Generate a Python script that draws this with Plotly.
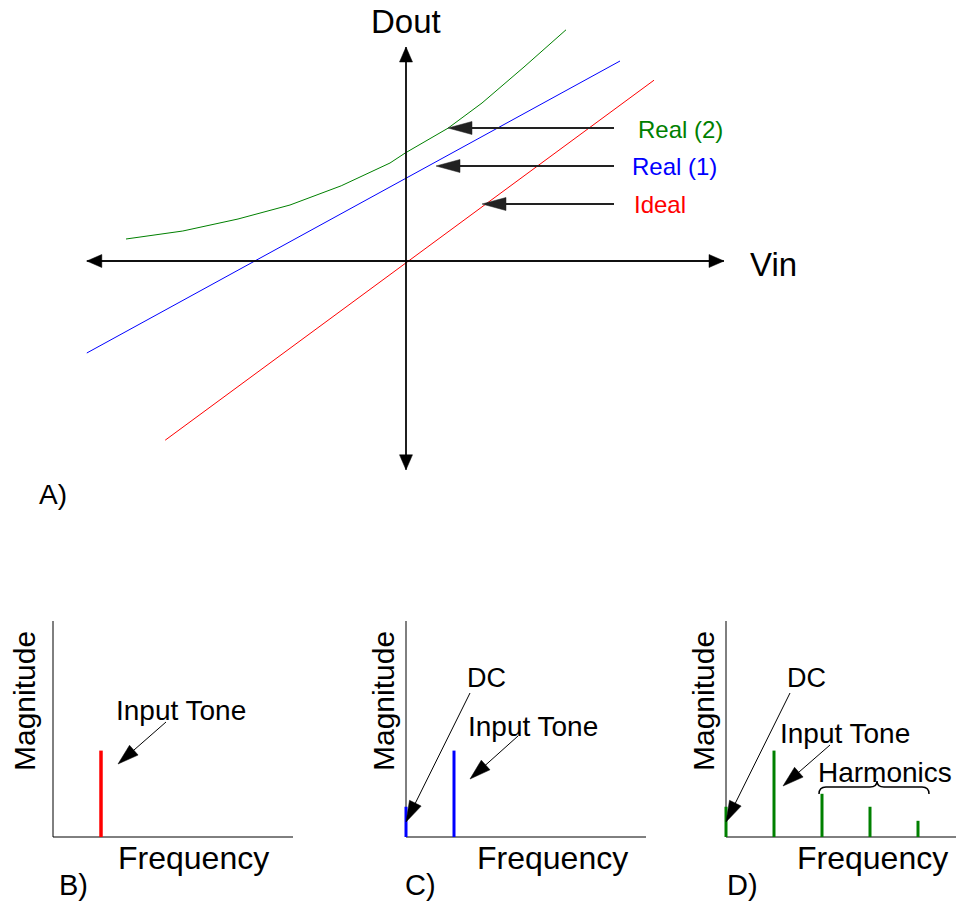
import math
import plotly.graph_objects as go

W, H = 956, 911
FONT = "Liberation Sans, Arial, sans-serif"

# ---------------- Data: top panel (transfer characteristic) ----------------
ideal_vin = [-3.01, 3.10]
ideal_dout = [-2.24, 2.26]
real1_vin = [-3.99, 2.675]
real1_dout = [-1.15, 2.50]
real2_vin = [-3.50, -2.79, -2.10, -1.45, -0.81, -0.20, -0.01, 0.525, 0.95, 1.475, 2.00]
real2_dout = [0.275, 0.375, 0.525, 0.70, 0.94, 1.225, 1.35, 1.66, 1.975, 2.425, 2.89]
axis_vin_extent = [-3.99, 3.975]
axis_dout_extent = [-2.61, 2.675]
curve_labels = ["Real (2)", "Real (1)", "Ideal"]

# ---------------- Data: spectra ----------------
spec_b_freq = [1]
spec_b_mag = [4.0]
spec_c_freq = [0, 1]
spec_c_mag = [1.4, 4.0]
spec_d_freq = [0, 1, 2, 3, 4]
spec_d_mag = [1.4, 4.0, 2.0, 1.4, 0.75]

# ---------------- layout helpers ----------------
PX_TOP = 80.0          # pixels per unit, top panel
OX, OY = 406, 261      # origin of top panel in pixels
FPX = 48.0             # pixels per frequency unit
MPX = 21.6             # pixels per magnitude unit


def px(x):
    return x / W


def py(y):
    return 1 - y / H


def stems(f, m):
    xs, ys = [], []
    for a, b in zip(f, m):
        xs += [a, a, None]
        ys += [0, b, None]
    return xs, ys


fig = go.Figure()

# top panel traces
fig.add_trace(go.Scatter(x=real2_vin, y=real2_dout, mode="lines",
                         line=dict(color="#008000", width=1), xaxis="x", yaxis="y"))
fig.add_trace(go.Scatter(x=real1_vin, y=real1_dout, mode="lines",
                         line=dict(color="#0000FF", width=1), xaxis="x", yaxis="y"))
fig.add_trace(go.Scatter(x=ideal_vin, y=ideal_dout, mode="lines",
                         line=dict(color="#FF0000", width=1), xaxis="x", yaxis="y"))

# bottom panels
panels = [
    ("2", 53, 293, spec_b_freq, spec_b_mag, "#FF0000", 3.5),
    ("3", 406, 646, spec_c_freq, spec_c_mag, "#0000FF", 3),
    ("4", 726, 980, spec_d_freq, spec_d_mag, "#008000", 3),
]
BASE_Y, TOP_Y = 837, 621

layout_axes = {}
shapes = []
for suf, ox, xend, f, m, col, lw in panels:
    xs, ys = stems(f, m)
    fig.add_trace(go.Scatter(x=xs, y=ys, mode="lines", line=dict(color=col, width=lw),
                             xaxis="x" + suf, yaxis="y" + suf))
    left_pad = 10
    bot_pad = 5
    d0 = px(ox - left_pad)
    d1 = min(px(xend), 1.0)
    xr1 = (min(xend, W) - ox) / FPX
    layout_axes["xaxis" + suf] = dict(domain=[d0, d1], range=[-left_pad / FPX, xr1],
                                      visible=False, anchor="y" + suf, fixedrange=True)
    layout_axes["yaxis" + suf] = dict(domain=[py(BASE_Y + bot_pad), py(TOP_Y - 2)],
                                      range=[-bot_pad / MPX, (BASE_Y - TOP_Y + 2) / MPX],
                                      visible=False, anchor="x" + suf, fixedrange=True)
    ymax = (BASE_Y - TOP_Y) / MPX
    shapes.append(dict(type="line", xref="x" + suf, yref="y" + suf, x0=0, y0=0, x1=0, y1=ymax,
                       line=dict(color="black", width=1), layer="below"))
    shapes.append(dict(type="line", xref="x" + suf, yref="y" + suf, x0=0, y0=0, x1=(xend - ox) / FPX, y1=0,
                       line=dict(color="black", width=1), layer="below"))

# brace for harmonics
brace_pts = "M {a},{b} Q {a},{c} {d},{c} L {e},{c} Q {f},{c} {f},{g} Q {f},{c} {h},{c} L {i},{c} Q {j},{c} {j},{b}".format(
    a=px(819), b=py(794), c=py(787), d=px(826), e=px(870), f=px(877), g=py(781), h=px(884), i=px(922), j=px(929))
shapes.append(dict(type="path", xref="paper", yref="paper", path=brace_pts,
                   line=dict(color="black", width=1.5)))


def arrow(tail, tip, L, Wd, lw, color="black"):
    """Arrow from tail to tip (pixel positions) with a filled triangular head."""
    dx, dy = tip[0] - tail[0], tip[1] - tail[1]
    n = math.hypot(dx, dy)
    ux, uy = dx / n, dy / n
    bx, by = tip[0] - L * ux, tip[1] - L * uy
    nx, ny = -uy, ux
    c1 = (bx + nx * Wd / 2, by + ny * Wd / 2)
    c2 = (bx - nx * Wd / 2, by - ny * Wd / 2)
    shapes.append(dict(type="line", xref="paper", yref="paper",
                       x0=px(tail[0]), y0=py(tail[1]), x1=px(bx + ux), y1=py(by + uy),
                       line=dict(color=color, width=lw)))
    path = "M {},{} L {},{} L {},{} Z".format(px(tip[0]), py(tip[1]), px(c1[0]), py(c1[1]),
                                             px(c2[0]), py(c2[1]))
    shapes.append(dict(type="path", xref="paper", yref="paper", path=path,
                       fillcolor=color, line=dict(color=color, width=0.5)))


def to_px(v, d):
    return (OX + v * PX_TOP, OY - d * PX_TOP)


# axis arrows (both ends)
left = to_px(axis_vin_extent[0], 0)
right = to_px(axis_vin_extent[1], 0)
top = to_px(0, axis_dout_extent[1])
bottom = to_px(0, axis_dout_extent[0])
arrow(left, right, 15, 13, 1.3)
arrow(right, left, 15, 13, 1.3)
arrow(bottom, top, 15, 13, 1.3)
arrow(top, bottom, 15, 13, 1.3)

annotations = []


def text(s, x, y, size, color="black", angle=0, xanchor="center"):
    annotations.append(dict(text=s, x=px(x), y=py(y), xref="paper", yref="paper",
                            showarrow=False, xanchor=xanchor, yanchor="middle", textangle=angle,
                            font=dict(family=FONT, size=size, color=color)))


# label arrows in top panel
label_tips = [(448, 128), (436, 166), (482, 204)]
label_cols = ["#008000", "#0000FF", "#FF0000"]
label_x = [636, 630, 632]
for (tx, ty), lab, col, lx in zip(label_tips, curve_labels, label_cols, label_x):
    arrow((614, ty), (tx, ty), 24, 13, 1.8, color="#222222")
    text(lab, lx, ty + 1, 24, col, xanchor="left")

text("Dout", 406, 21, 33)
text("Vin", 773, 264, 33)
text("A)", 53, 494, 28)

# B
text("Magnitude", 24, 701, 30, angle=-90)
text("Frequency", 193, 858, 32)
text("B)", 73, 885, 29)
text("Input Tone", 181, 710, 28)
arrow((166, 722), (118, 764), 21, 13, 1)

# C
text("Magnitude", 383, 701, 30, angle=-90)
text("Frequency", 552, 858, 32)
text("C)", 420, 885, 29)
text("DC", 486, 678, 27)
arrow((470, 693), (406, 822), 21, 13, 1)
text("Input Tone", 533, 726, 28)
arrow((518, 736), (470, 779), 21, 13, 1)

# D
text("Magnitude", 703, 701, 30, angle=-90)
text("Frequency", 872, 858, 32)
text("D)", 742, 885, 29)
text("DC", 806, 678, 27)
arrow((790, 693), (726, 822), 21, 13, 1)
text("Input Tone", 845, 733, 28)
arrow((830, 745), (783, 786), 21, 13, 1)
text("Harmonics", 885, 772, 28)

fig.update_layout(
    width=W, height=H, margin=dict(l=0, r=0, t=0, b=0),
    paper_bgcolor="white", plot_bgcolor="rgba(0,0,0,0)", showlegend=False,
    xaxis=dict(domain=[0, 1], range=[-OX / PX_TOP, (W - OX) / PX_TOP], visible=False, fixedrange=True),
    yaxis=dict(domain=[0, 1], range=[(OY - H) / PX_TOP, OY / PX_TOP], visible=False, fixedrange=True),
    shapes=shapes, annotations=annotations,
    **layout_axes,
)

fig.write_html("out.html")
